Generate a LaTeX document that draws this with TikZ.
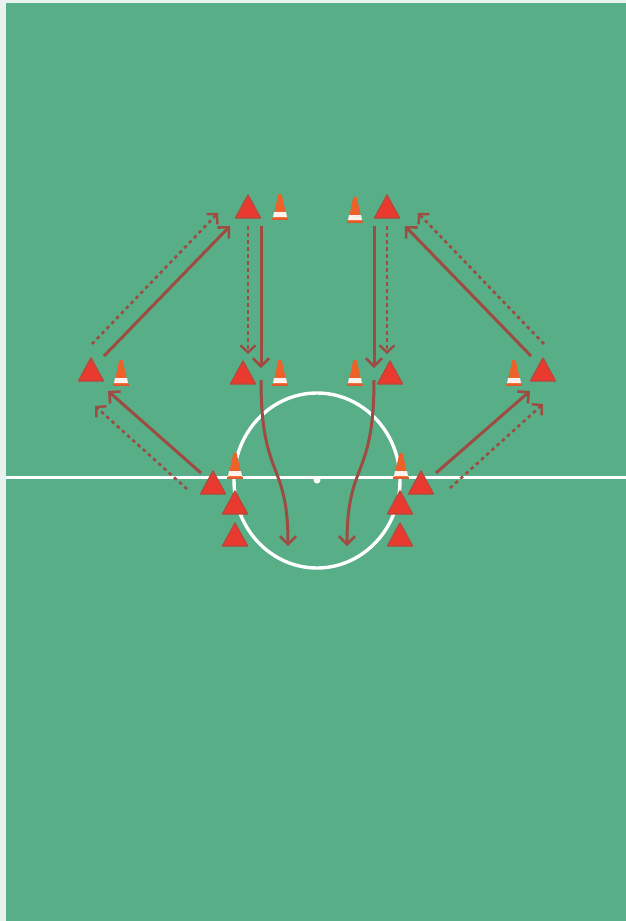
\documentclass[tikz,border=0pt]{standalone}
\usetikzlibrary{arrows.meta}
\definecolor{pitch}{HTML}{58AE87}
\definecolor{edgewhite}{HTML}{E8F2EE}
\definecolor{runred}{HTML}{9E4C42}
\definecolor{markred}{HTML}{EA3A30}
\definecolor{markedge}{HTML}{B9473A}
\definecolor{coneor}{HTML}{EE6128}
\tikzset{
  x=1pt,y=-1pt,
  fieldline/.style={draw=white,line width=3.4pt},
  runarrow/.style={draw=runred,line width=3pt,-{Straight Barb[length=8pt,width=16pt,line width=2.6pt]}},
  dotarrow/.style={draw=runred,line width=2.6pt,dash pattern=on 3.5pt off 3.5pt,-{Straight Barb[length=7pt,width=15pt,line width=2.4pt]}},
  marker/.pic={
    \fill[markred,draw=markedge,line width=1.4pt,line join=round] (-12.5,-1)--(0,-24)--(12.5,-1)--cycle;
  },
  conepic/.pic={
    \fill[coneor!70!markedge] (-8,0) rectangle (8,-2.5);
    \fill[coneor] (-7,-1.5)--(-1.6,-26)--(1.6,-26)--(7,-1.5)--cycle;
    \fill[white!92!coneor] (-6,-8)--(6,-8)--(7,-3)--(-7,-3)--cycle;
  }
}
\begin{document}
\begin{tikzpicture}
\useasboundingbox (0,0) rectangle (626,921);
\fill[edgewhite] (0,0) rectangle (626,921);
\fill[pitch] (6,3) rectangle (626,921);
% field lines
\coordinate (lineL) at (6,477.5);
\coordinate (lineR) at (626,477.5);
\draw[fieldline] (lineL) -- (lineR);
\draw[fieldline] (317,480.5) ellipse [x radius=83,y radius=87.5];
\fill[white] (317,480) circle (3.5);
% position names
\foreach \n/\x/\y in {tA/248/219,tB/387/219,mA/91/382,mB/243/385,mC/390/385,mD/543/382,lA/213/495,lB/421/495,lC/235/515,lD/400/515,lE/235/547,lF/400/547}
  \coordinate (\n) at (\x,\y);
\foreach \n/\x/\y in {cA/280/220,cB/355/223,cC/121/386,cD/280/386,cE/355/386,cF/514/386,cG/235/479,cH/401/479}
  \coordinate (\n) at (\x,\y);
% connector ends
\foreach \n/\x/\y in {a1/104/356,a2/230/226,b1/92/344,b2/218/213,
  c1/201/473,c2/108/391,d1/187/489,d2/95/406,
  e1/261/226,e2/261/368,f1/248/226,f2/248/354,
  g1/374/226,g2/374/368,h1/387/226,h2/387/354,
  i1/531/356,i2/405/226,j1/544/344,j2/418/213,
  k1/436/473,k2/530/391,l1/450/488,l2/543/404,
  m1/261/380,m2/288/546,n1/374/380,n2/347/546}
  \coordinate (\n) at (\x,\y);
% runs
\draw[runarrow] (a1) -- (a2);
\draw[dotarrow] (b1) -- (b2);
\draw[runarrow] (c1) -- (c2);
\draw[dotarrow] (d1) -- (d2);
\draw[runarrow] (e1) -- (e2);
\draw[dotarrow] (f1) -- (f2);
\draw[runarrow] (g1) -- (g2);
\draw[dotarrow] (h1) -- (h2);
\draw[runarrow] (i1) -- (i2);
\draw[dotarrow] (j1) -- (j2);
\draw[runarrow] (k1) -- (k2);
\draw[dotarrow] (l1) -- (l2);
\draw[runarrow] (m1) .. controls (261,480) and (288,460) .. (m2);
\draw[runarrow] (n1) .. controls (374,480) and (347,460) .. (n2);
% cones and markers
\foreach \n in {cA,cB,cC,cD,cE,cF,cG,cH}
  \path (\n) pic {conepic};
\foreach \n in {tA,tB,mA,mB,mC,mD,lA,lB,lC,lD,lE,lF}
  \path (\n) pic {marker};
\end{tikzpicture}
\end{document}
